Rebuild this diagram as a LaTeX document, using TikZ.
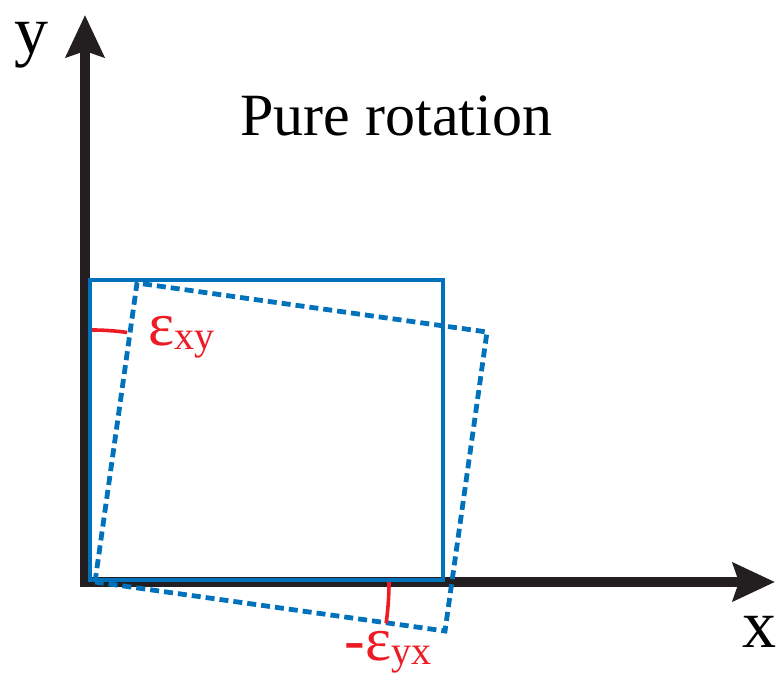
\documentclass[tikz,border=0pt]{standalone}
\usepackage{fontspec}
\setmainfont{Liberation Serif}
\usetikzlibrary{arrows.meta}
\definecolor{axisblack}{HTML}{231F20}
\definecolor{boxblue}{HTML}{0072BC}
\definecolor{anglered}{HTML}{ED1C24}
\newcommand{\strainlbl}[2]{{\fontsize{31}{36}\selectfont #1}\raisebox{-2pt}{\fontsize{20}{24}\selectfont #2}}

\begin{document}
\begin{tikzpicture}[x=0.5pt,y=0.5pt,>={Stealth[length=21pt,width=19pt,inset=3pt]},
        axis/.style={line width=4.8pt,color=axisblack,<->},
        solidbox/.style={line width=2.3pt,color=boxblue},
        rotbox/.style={line width=2.4pt,color=boxblue,dash pattern=on 4.5pt off 2.5pt},
        anglearc/.style={line width=1.8pt,color=anglered},
        lbl/.style={inner sep=0pt,anchor=base west}]
    \useasboundingbox (0,0) rectangle (776,687);
    % axes
    \coordinate (O) at (85,105);
    \coordinate (ytip) at (85,672);
    \coordinate (xtip) at (775,105);
    \draw[axis] (ytip) -- (O) -- (xtip);
    \node[lbl, font=\fontsize{34}{40}\selectfont] (ylbl) at (14,633) {y};
    \node[lbl, font=\fontsize{34}{40}\selectfont] (xlbl) at (742,40) {x};
    \node[lbl, font=\fontsize{30}{36}\selectfont] (title) at (240,552) {Pure rotation};
    % square before and after rotation
    \draw[solidbox] (90,107) rectangle (443,407);
    \coordinate (A) at (95,105);
    \coordinate (B) at (137,404);
    \coordinate (C) at (487,355);
    \coordinate (D) at (445,56);
    \draw[rotbox] (A) -- (B) -- (C) -- (D) -- cycle;
    % angles
    \coordinate (c) at (92,105);
    \draw[anglearc] (c) ++(90:252) arc[start angle=90,end angle=82,radius=252];
    \draw[anglearc] (c) ++(0:297) arc[start angle=0,end angle=-8,radius=297];
    \node[lbl, color=anglered] (exy) at (148,342) {\strainlbl{ε}{xy}};
    \node[lbl, color=anglered] (eyx) at (344,27) {\strainlbl{-ε}{yx}};
\end{tikzpicture}
\end{document}
